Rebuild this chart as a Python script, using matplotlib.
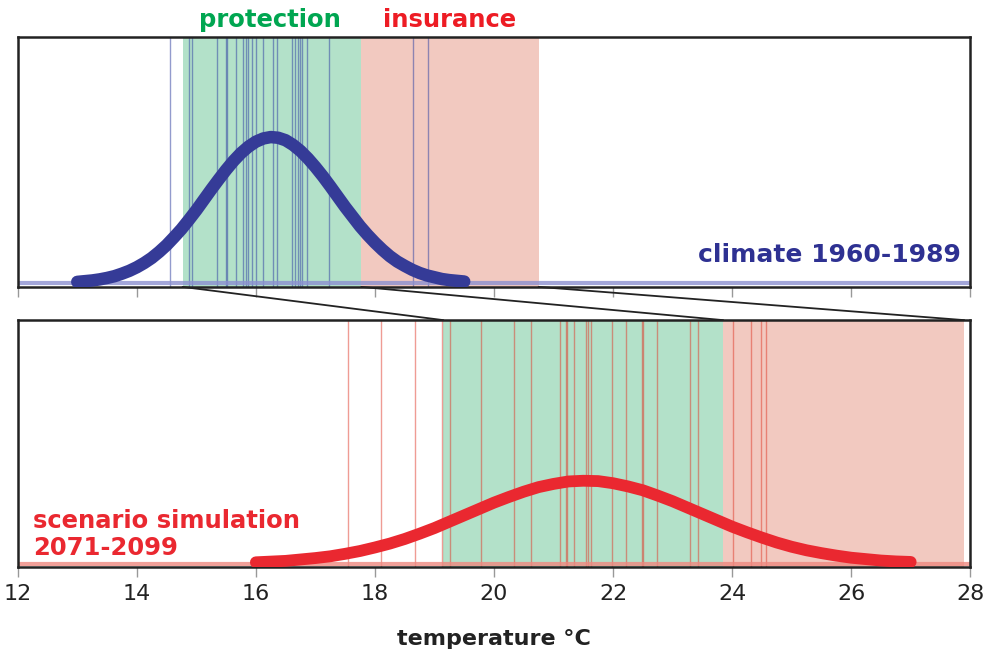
import matplotlib
matplotlib.use('Agg')
import matplotlib.pyplot as plt
from matplotlib.patches import ConnectionPatch

# thresholds (°C)
prot_top = (14.77, 17.77)
ins_top = (17.77, 20.75)
prot_bot = (19.15, 23.85)
ins_bot = (23.85, 27.9)

# yearly values, observed 1960-1989 and scenario 2071-2099
years_obs = [14.55, 14.87, 14.92, 15.35, 15.50, 15.51, 15.67, 15.79, 15.84, 15.87,
             15.93, 16.00, 16.12, 16.29, 16.35, 16.61, 16.65, 16.71, 16.74, 16.77,
             16.86, 17.23, 18.64, 18.89]
years_scen = [17.54, 18.10, 18.67, 19.13, 19.26, 19.78, 20.33, 20.63, 21.11, 21.21,
              21.22, 21.35, 21.55, 21.58, 21.63, 21.98, 22.22, 22.48, 22.51, 22.74,
              23.30, 23.42, 24.02, 24.32, 24.48, 24.57]

# density curves
dens_obs_x = [13.0, 13.125, 13.25, 13.375, 13.5, 13.625, 13.75, 13.875, 14.0, 14.125,
              14.25, 14.375, 14.5, 14.625, 14.75, 14.875, 15.0, 15.125, 15.25, 15.375,
              15.5, 15.625, 15.75, 15.875, 16.0, 16.125, 16.25, 16.375, 16.5, 16.625,
              16.75, 16.875, 17.0, 17.125, 17.25, 17.375, 17.5, 17.625, 17.75, 17.875,
              18.0, 18.125, 18.25, 18.375, 18.5, 18.625, 18.75, 18.875, 19.0, 19.125,
              19.25, 19.375, 19.5]
dens_obs_y = [0.004, 0.006, 0.008, 0.011, 0.015, 0.020, 0.027, 0.035, 0.045, 0.057,
              0.071, 0.088, 0.107, 0.129, 0.152, 0.178, 0.205, 0.234, 0.263, 0.291,
              0.318, 0.343, 0.365, 0.383, 0.397, 0.406, 0.410, 0.408, 0.401, 0.388,
              0.371, 0.350, 0.326, 0.300, 0.272, 0.243, 0.214, 0.187, 0.160, 0.136,
              0.114, 0.094, 0.076, 0.061, 0.049, 0.038, 0.029, 0.022, 0.017, 0.012,
              0.009, 0.007, 0.005]
dens_scen_x = [16.0, 16.25, 16.5, 16.75, 17.0, 17.25, 17.5, 17.75, 18.0, 18.25,
               18.5, 18.75, 19.0, 19.25, 19.5, 19.75, 20.0, 20.25, 20.5, 20.75,
               21.0, 21.25, 21.5, 21.75, 22.0, 22.25, 22.5, 22.75, 23.0, 23.25,
               23.5, 23.75, 24.0, 24.25, 24.5, 24.75, 25.0, 25.25, 25.5, 25.75,
               26.0, 26.25, 26.5, 26.75, 27.0]
dens_scen_y = [0.004, 0.006, 0.008, 0.012, 0.016, 0.021, 0.028, 0.036, 0.046, 0.057,
               0.070, 0.085, 0.101, 0.119, 0.137, 0.155, 0.173, 0.189, 0.204, 0.217,
               0.226, 0.233, 0.235, 0.234, 0.228, 0.219, 0.208, 0.193, 0.177, 0.159,
               0.141, 0.123, 0.105, 0.089, 0.074, 0.060, 0.048, 0.038, 0.030, 0.023,
               0.017, 0.013, 0.009, 0.0065, 0.005]

xticks = [12, 14, 16, 18, 20, 22, 24, 26, 28]

GREEN = '#b3e1c9'
PINK = '#f2c9c0'
BLUE = '#353b97'
RED = '#ea2830'

plt.rcParams['font.family'] = ['DejaVu Sans']

fig = plt.figure(figsize=(9.86, 6.52), dpi=100)
ax1 = fig.add_axes([0.018, 0.560, 0.966, 0.383])
ax2 = fig.add_axes([0.018, 0.130, 0.966, 0.379])

for ax in (ax1, ax2):
    ax.set_xlim(12, 28)
    ax.set_ylim(-0.01, 0.69)
    ax.set_yticks([])
    ax.set_xticks(xticks)
    ax.tick_params(axis='x', direction='out', length=7, width=1, color='#999999',
                   labelsize=16, labelcolor='#222222', pad=5)
    for s in ax.spines.values():
        s.set_linewidth(1.8)
        s.set_color('#222222')

ax1.tick_params(axis='x', labelbottom=False)

# top panel
ax1.axvspan(*prot_top, color=GREEN, lw=0, zorder=0)
ax1.axvspan(*ins_top, color=PINK, lw=0, zorder=0)
for v in years_obs:
    ax1.axvline(v, color='#3a4aa5', lw=1, alpha=0.55, zorder=1)
ax1.axhline(0, color='#8c90d0', lw=3, alpha=0.8, zorder=2)
ax1.plot(dens_obs_x, dens_obs_y, color=BLUE, lw=9, solid_capstyle='round',
         solid_joinstyle='round', zorder=3)
ax1.text(27.85, 0.045, 'climate 1960-1989', color='#2e3192', fontsize=18,
         fontweight='bold', ha='right', va='bottom')

# bottom panel
ax2.axvspan(*prot_bot, color=GREEN, lw=0, zorder=0)
ax2.axvspan(*ins_bot, color=PINK, lw=0, zorder=0)
for v in years_scen:
    ax2.axvline(v, color='#e03a2a', lw=1, alpha=0.5, zorder=1)
ax2.axhline(0, color='#ee8880', lw=3, alpha=0.8, zorder=2)
ax2.plot(dens_scen_x, dens_scen_y, color=RED, lw=8.5, solid_capstyle='round',
         solid_joinstyle='round', zorder=3)
ax2.text(12.25, 0.011, 'scenario simulation\n2071-2099', color=RED, fontsize=17.5,
         fontweight='bold', ha='left', va='bottom', linespacing=1.15)
ax2.set_xlabel('temperature °C', fontsize=16, fontweight='bold', labelpad=18,
               color='#222222')

# labels above top panel
fig.text(270 / 986, 1 - 20 / 652, 'protection', color='#00a651', fontsize=17.5,
         fontweight='bold', ha='center', va='center')
fig.text(450 / 986, 1 - 20 / 652, 'insurance', color='#ed1c24', fontsize=17.5,
         fontweight='bold', ha='center', va='center')

# connector lines between the thresholds
for xa, xb in [(prot_top[0], prot_bot[0]), (ins_top[0], ins_bot[0]), (ins_top[1], ins_bot[1])]:
    con = ConnectionPatch(xyA=(xa, -0.01), coordsA=ax1.transData,
                          xyB=(xb, 0.69), coordsB=ax2.transData,
                          color='#222222', lw=1.3)
    fig.add_artist(con)

fig.savefig('out.png', dpi=100)
